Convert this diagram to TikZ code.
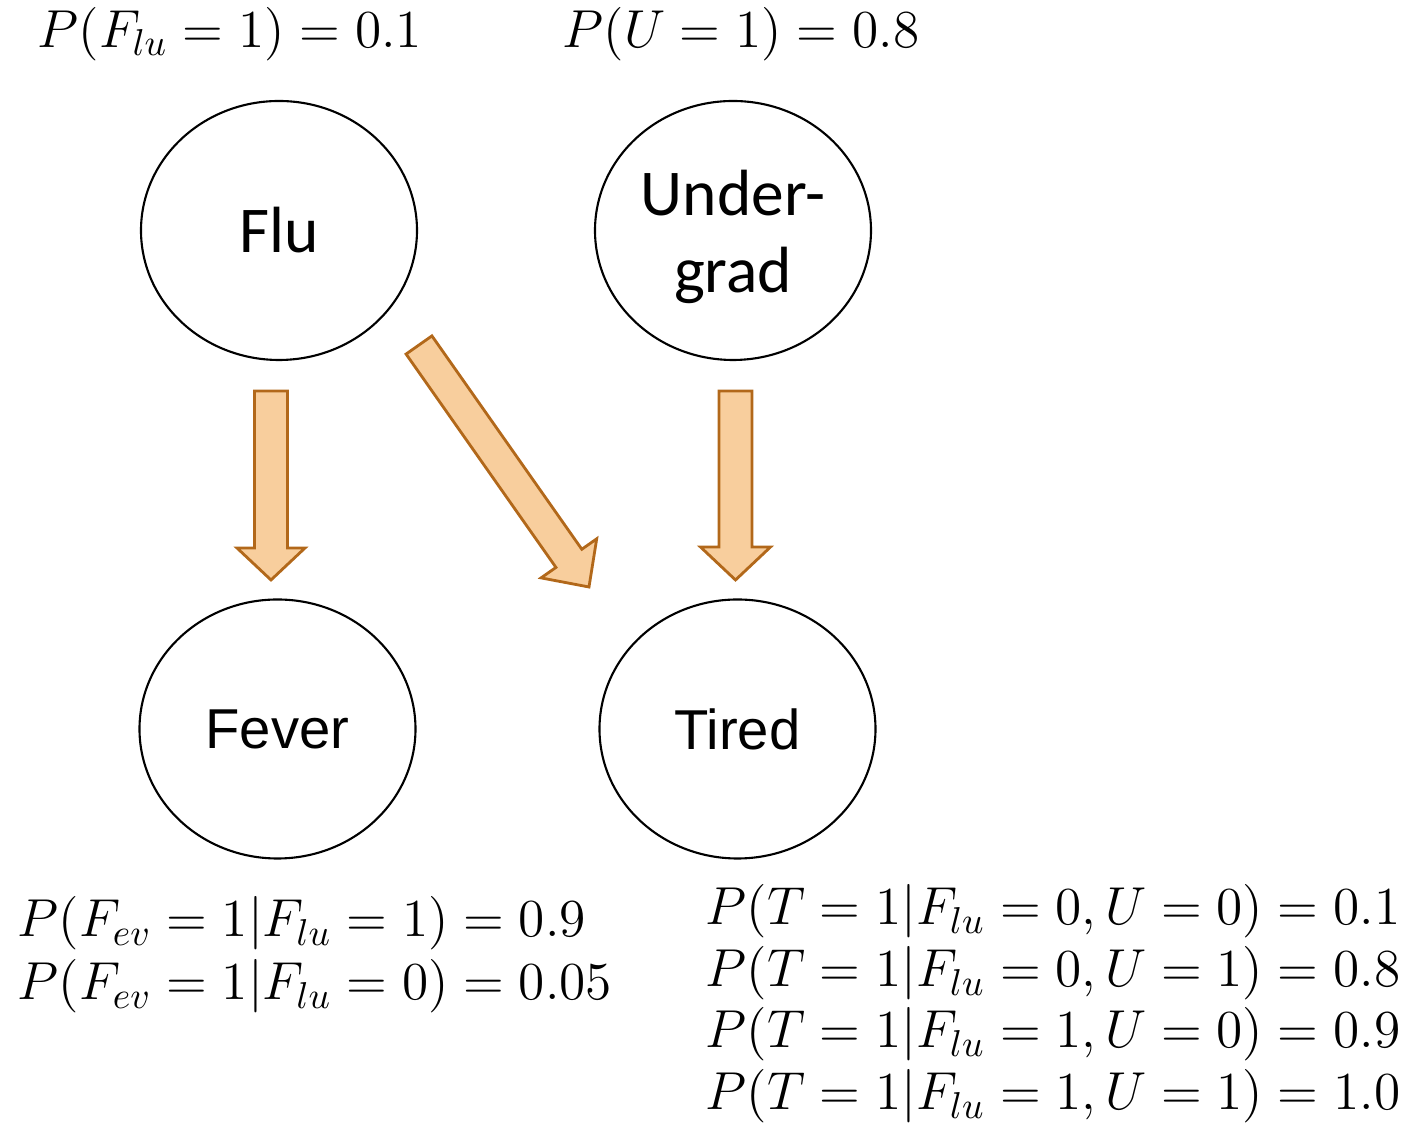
\RequirePackage{fix-cm}
\documentclass[tikz,border=0pt]{standalone}
\usepackage{fontspec}
\usetikzlibrary{shapes.geometric,calc}
\newfontfamily\carlito{Carlito}
\newfontfamily\libsans{Liberation Sans}

\definecolor{arrowfill}{RGB}{248,206,157}
\definecolor{arrowline}{RGB}{178,104,26}

% block arrow from #1 to #2: shaft half width #3, head half width #4, head length #5
\newcommand\blockarrow[5]{%
  \coordinate (#1hb) at ($(#2)!#5!(#1)$);
  \draw[blockarrow]
    ($(#1)!#3!90:(#2)$) -- ($(#1hb)!#3!90:(#2)$) -- ($(#1hb)!#4!90:(#2)$) -- (#2)
    -- ($(#1hb)!#4!-90:(#2)$) -- ($(#1hb)!#3!-90:(#2)$) -- ($(#1)!#3!-90:(#2)$) -- cycle;
}

\begin{document}
\begin{tikzpicture}[
  var/.style={draw=black, line width=0.6pt, ellipse, inner sep=0pt,
              minimum width=2.76cm, minimum height=2.59cm},
  blockarrow/.style={draw=arrowline, fill=arrowfill, line width=0.8pt},
  prob/.style={anchor=base west, inner sep=0pt, font=\fontsize{15.2}{18}\selectfont}
]
\useasboundingbox (0,0) rectangle (14.14,-11.27);

% variables
\node[var, font=\carlito\fontsize{18.6}{21.6}\selectfont] (flu) at (2.79,-2.305) {Flu};
\node[var, font=\carlito\fontsize{18.6}{21.8}\selectfont, align=center] (ug) at (7.33,-2.305)
  {\rule{0pt}{0.58cm}Under-\\grad};
\node[var, font=\libsans\fontsize{16}{19}\selectfont] (fever) at (2.775,-7.29) {\raisebox{-0.6mm}{Fever}};
\node[var, font=\libsans\fontsize{16}{19}\selectfont] (tired) at (7.375,-7.29) {\raisebox{-0.6mm}{Tired}};

% arrows
\coordinate (a1s) at (2.71,-3.91);  \coordinate (a1e) at (2.71,-5.80);
\coordinate (a2s) at (4.19,-3.45);  \coordinate (a2e) at (5.89,-5.87);
\coordinate (a3s) at (7.355,-3.91); \coordinate (a3e) at (7.355,-5.80);
\blockarrow{a1s}{a1e}{0.165cm}{0.34cm}{0.32cm}
\blockarrow{a2s}{a2e}{0.158cm}{0.34cm}{0.35cm}
\blockarrow{a3s}{a3e}{0.165cm}{0.35cm}{0.33cm}

% priors
\node[prob] (pflu) at (0.37,-0.48) {$P(F_{lu}=1)=0.1$};
\node[prob] (pug) at (5.62,-0.48) {$P(U=1)=0.8$};

% conditional for fever
\node[prob] (pf1) at (0.17,-9.37) {$P(F_{ev}=1|F_{lu}=1)=0.9$};
\node[prob] (pf2) at (0.17,-10.00) {$P(F_{ev}=1|F_{lu}=0)=0.05$};

% conditional for tired
\node[prob] (pt1) at (7.05,-9.25) {$P(T=1|F_{lu}=0,U=0)=0.1$};
\node[prob] (pt2) at (7.05,-9.87) {$P(T=1|F_{lu}=0,U=1)=0.8$};
\node[prob] (pt3) at (7.05,-10.48) {$P(T=1|F_{lu}=1,U=0)=0.9$};
\node[prob] (pt4) at (7.05,-11.10) {$P(T=1|F_{lu}=1,U=1)=1.0$};
\end{tikzpicture}
\end{document}
